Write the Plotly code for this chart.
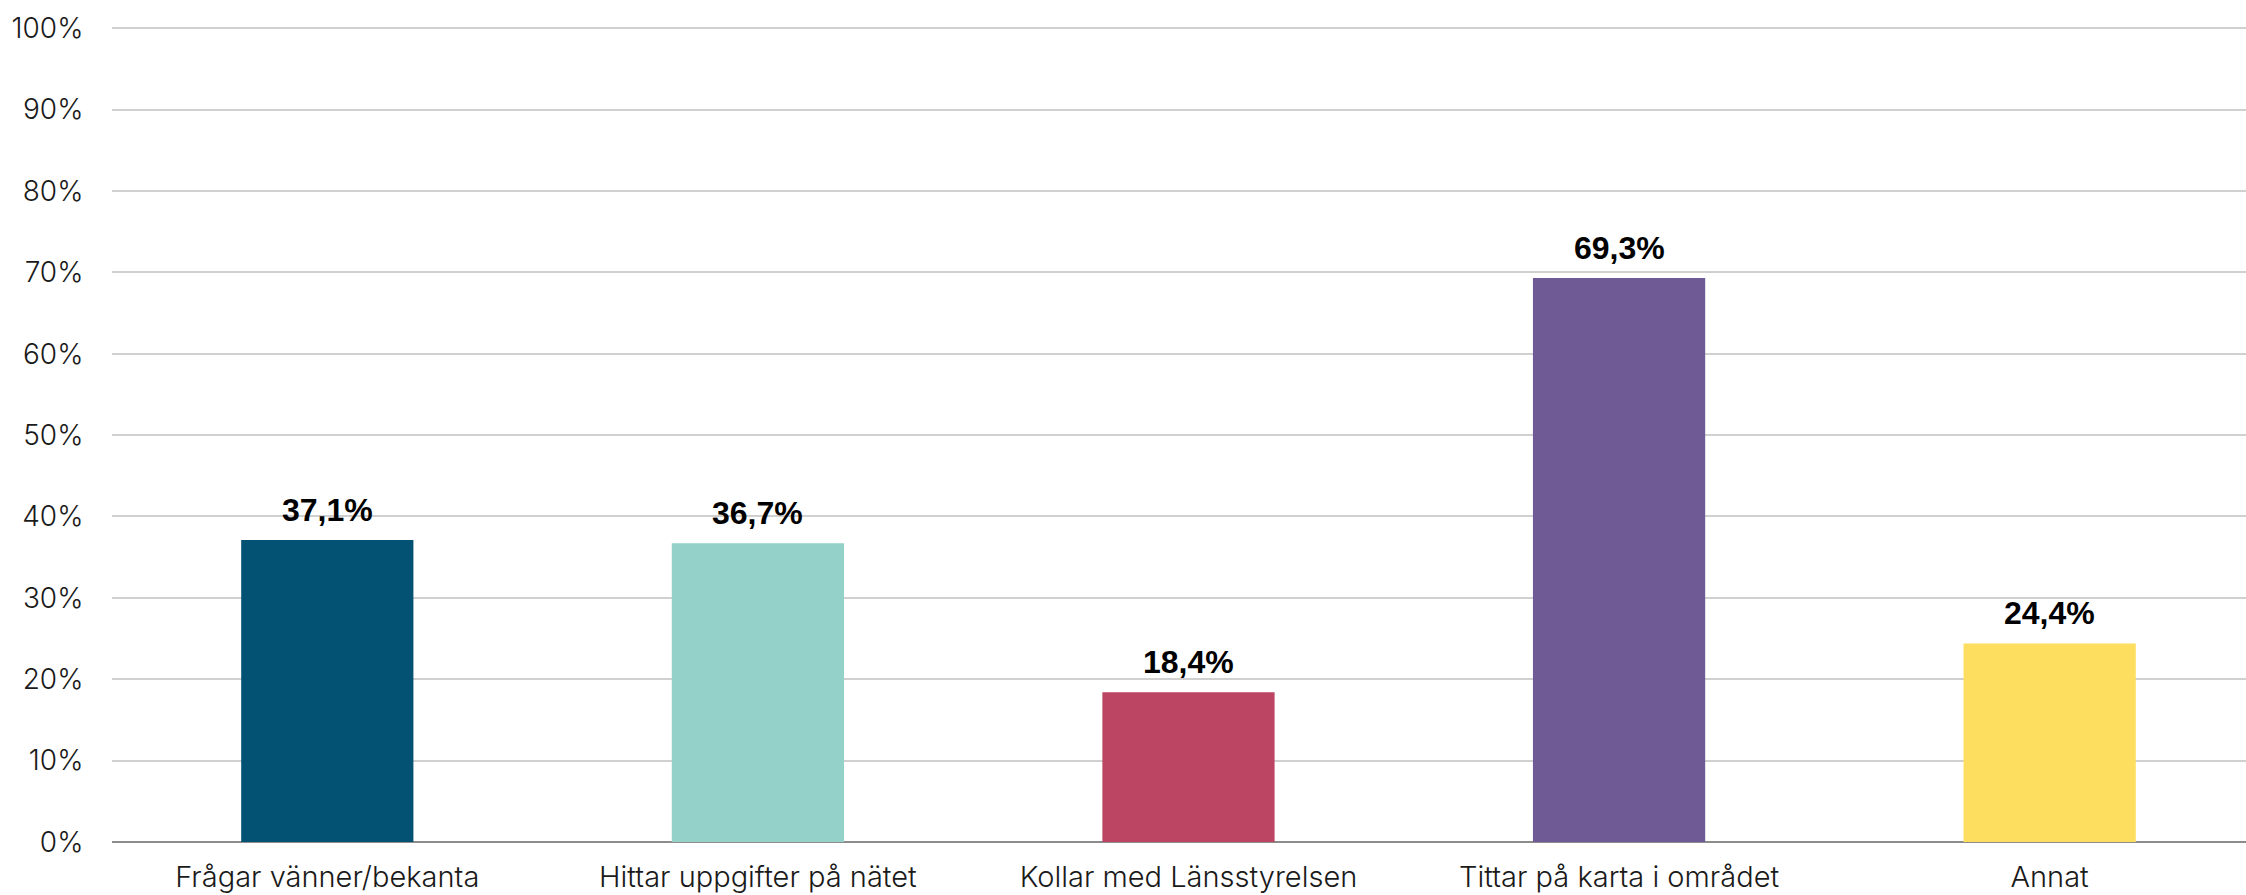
import plotly.graph_objects as go

categories = ["Frågar vänner/bekanta", "Hittar uppgifter på nätet", "Kollar med Länsstyrelsen",
              "Tittar på karta i området", "Annat"]
values = [37.1, 36.7, 18.4, 69.3, 24.4]
labels = ["37,1%", "36,7%", "18,4%", "69,3%", "24,4%"]
colors = ["#035273", "#93d1c9", "#bb4563", "#6f5a96", "#fede5e"]
y_ticks = [0, 10, 20, 30, 40, 50, 60, 70, 80, 90, 100]
y_tick_text = [f"{v}%" for v in y_ticks]

fig = go.Figure()
fig.add_trace(go.Bar(
    x=list(range(len(categories))), y=values,
    marker=dict(color=colors, line=dict(width=0)),
    width=0.4, hoverinfo="skip",
))

for i, (v, t) in enumerate(zip(values, labels)):
    fig.add_annotation(x=i, y=v, text=t, showarrow=False, yanchor="bottom", yshift=10,
                       font=dict(family="Liberation Sans", size=32, color="#000000", weight="bold"))

fig.update_layout(
    width=2246, height=895,
    margin=dict(l=112, r=0, t=27, b=53),
    paper_bgcolor="white", plot_bgcolor="white",
    showlegend=False,
)
fig.update_xaxes(
    range=[-0.5, 4.456], automargin=False,
    tickmode="array", tickvals=list(range(len(categories))), ticktext=categories,
    tickfont=dict(family="Inter", size=29, color="#1a1a1a", weight=300),
    ticks="outside", ticklen=9, tickcolor="rgba(0,0,0,0)",
    showgrid=False, showline=False, zeroline=False,
)
fig.update_yaxes(
    range=[0, 100.15], automargin=False,
    tickmode="array", tickvals=y_ticks, ticktext=y_tick_text,
    tickfont=dict(family="Inter", size=28, color="#1a1a1a", weight=300),
    ticks="outside", ticklen=22, tickcolor="rgba(0,0,0,0)",
    showgrid=True, gridcolor="#d0d0d0", gridwidth=1.5,
    zeroline=True, zerolinecolor="#8c8c8c", zerolinewidth=2,
    showline=False,
)

fig.write_html("out.html", config={"displayModeBar": False},
               post_script="document.body.style.margin='0';document.body.style.overflow='hidden';")
